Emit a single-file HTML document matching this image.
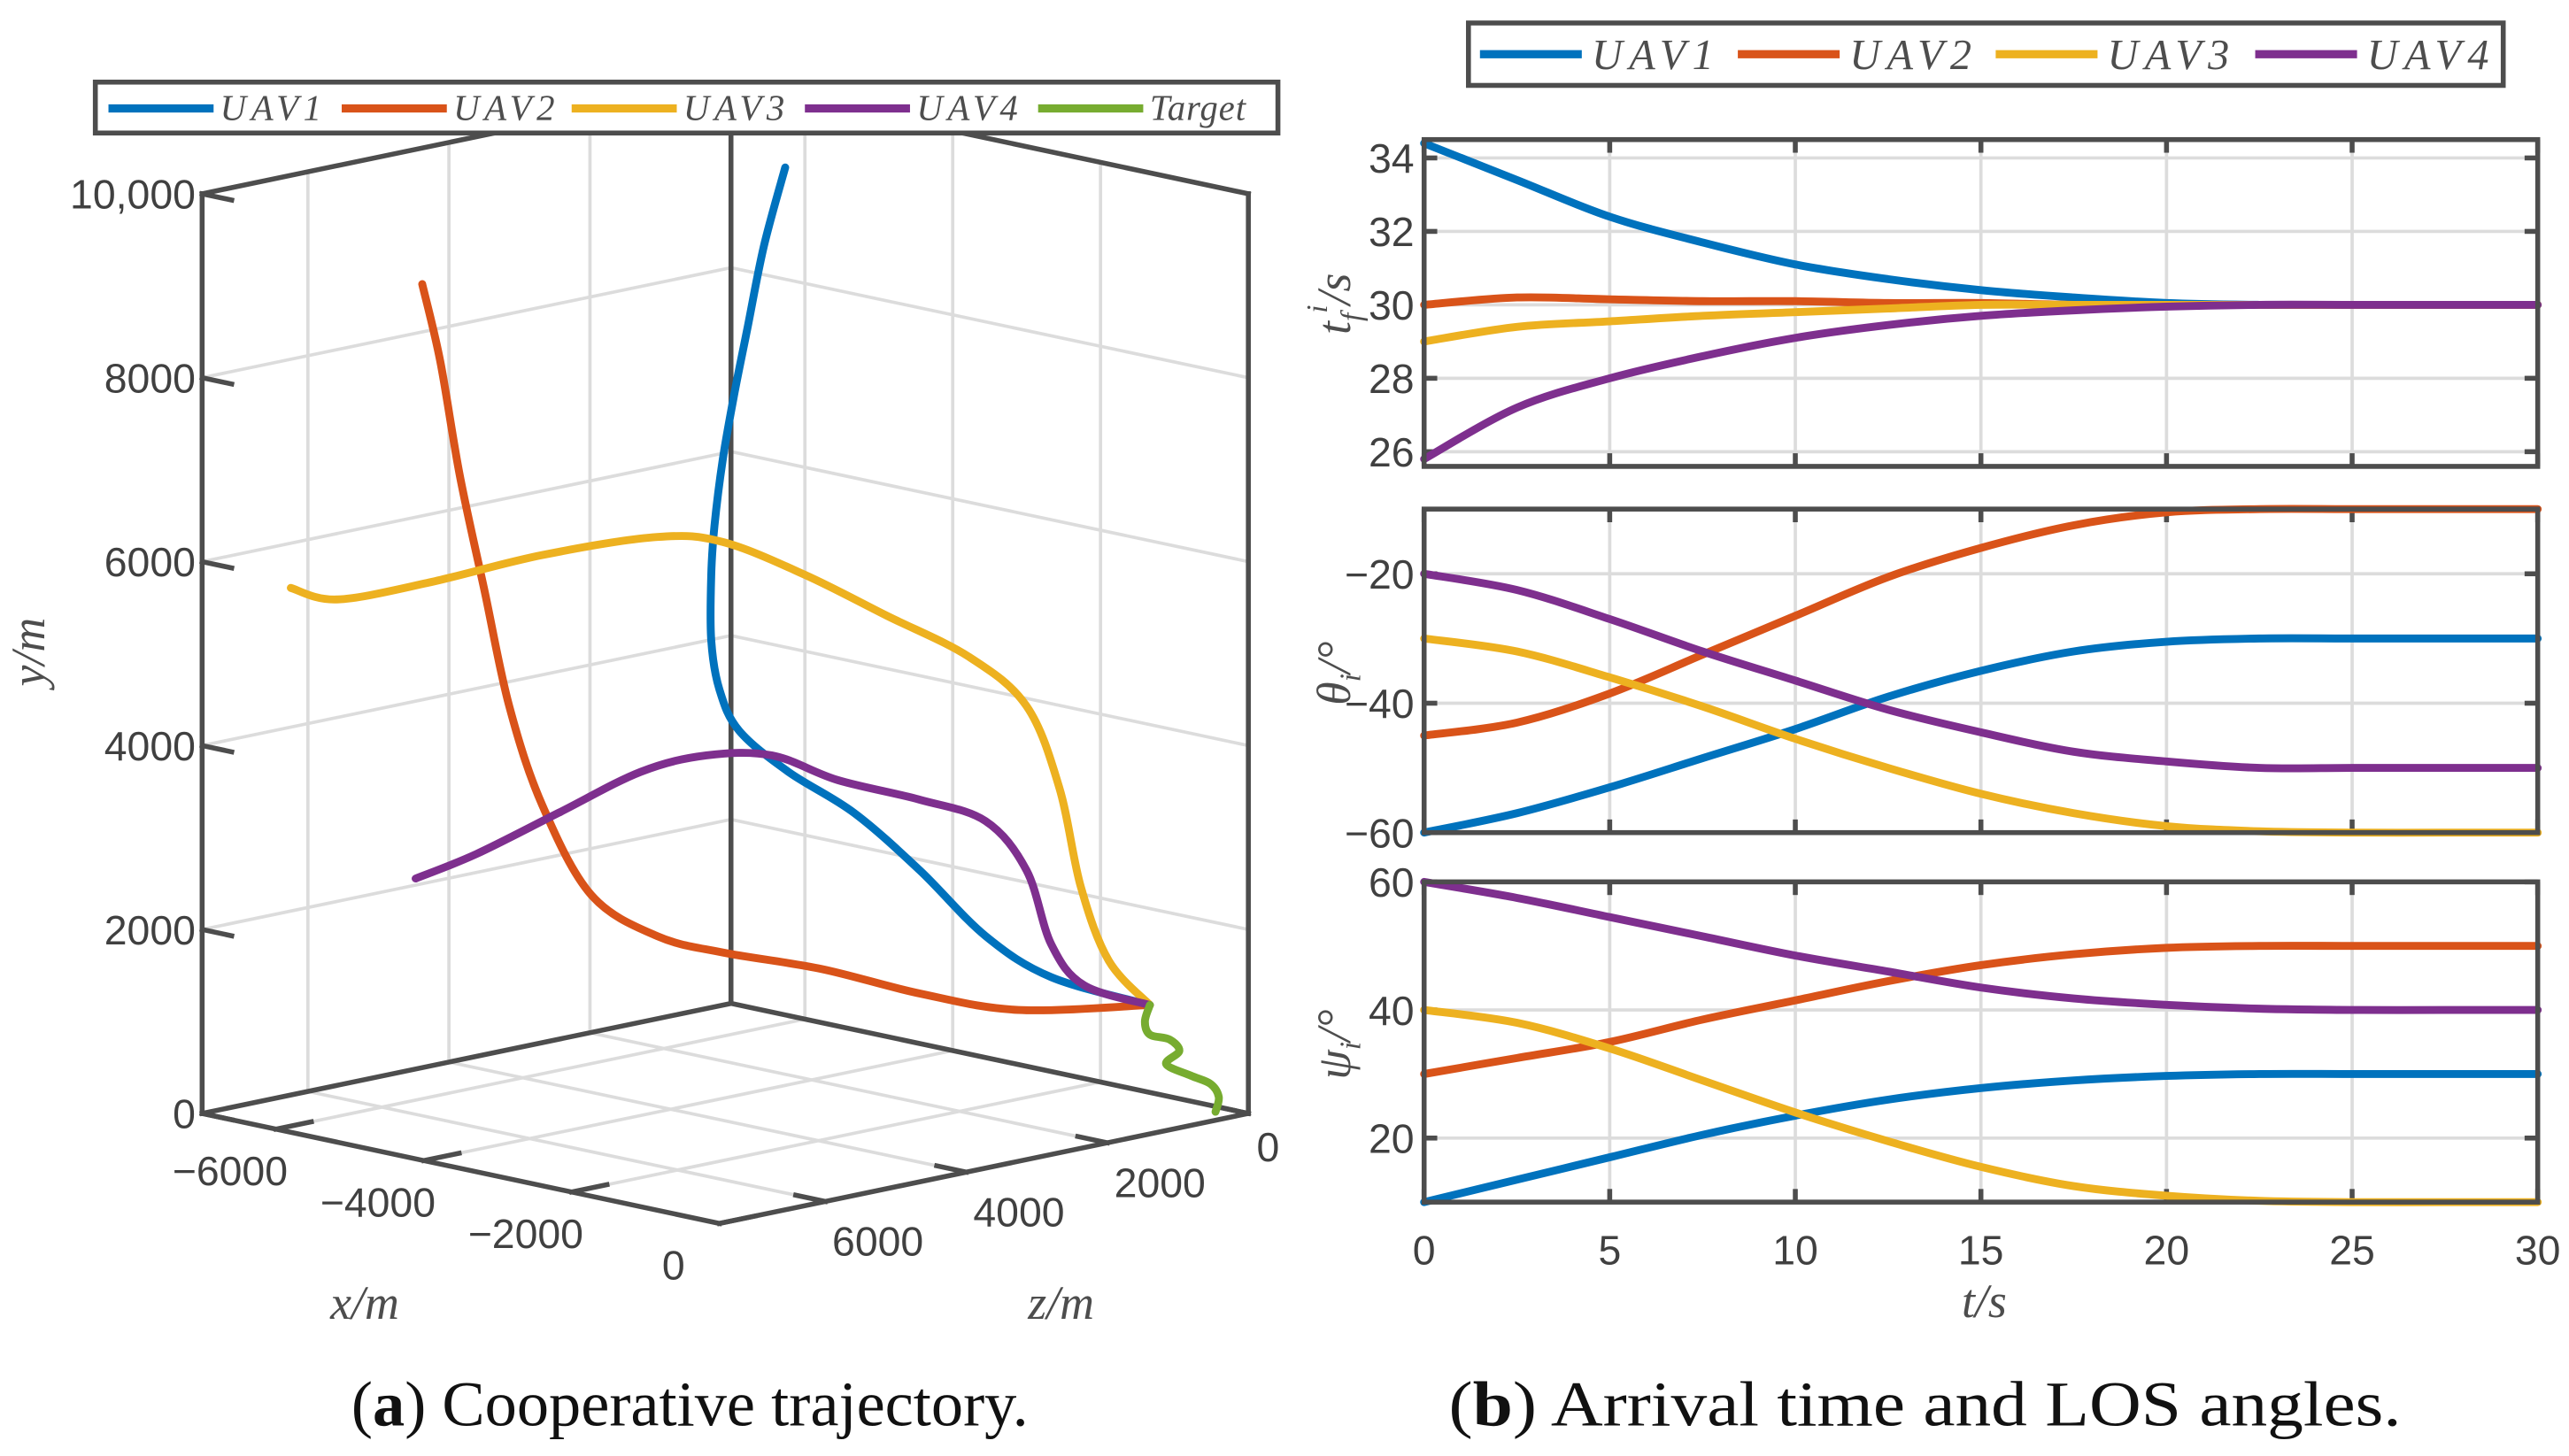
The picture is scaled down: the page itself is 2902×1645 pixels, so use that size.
<!DOCTYPE html>
<html><head><meta charset="utf-8">
<style>
html,body{margin:0;padding:0;background:#fff;}
svg{display:block;}
text{font-family:"Liberation Sans",sans-serif;}
.tick{font-size:25px;fill:#404040;}
.math{font-family:"Liberation Serif",serif;font-style:italic;fill:#4d4d4d;}
.cap{font-family:"Liberation Serif",serif;font-size:39px;fill:#111;}
</style></head>
<body>
<svg id="fig" width="2902" height="1645" viewBox="0 0 1564 886.6" xmlns="http://www.w3.org/2000/svg">
<g id="left"></g>
<g id="right"></g>
<text class="cap" x="420" y="868" text-anchor="middle">(<tspan font-weight="bold">a</tspan>) Cooperative trajectory.</text>
<text class="cap" x="882" y="868" textLength="580" lengthAdjust="spacingAndGlyphs">(<tspan font-weight="bold">b</tspan>) Arrival time and LOS angles.</text>
</svg>
<script>
// ---------- 3D trajectory data (metres) ----------
const uav1X=[-3099,-3242,-3352,-3440,-3517,-3572,-3594,-3594,-3539,-3407,-3077,-2638,-2198,-1758,-1319,-659];
const uav1Y=[10286,9429,8536,7821,7107,6393,5857,5143,4607,4161,3714,3268,2643,1929,1482,1179];
const uav1Z=[3320,3473,3591,3685,3768,3827,3850,3850,3791,3650,3297,2826,2355,1884,1413,706];
const uav2X=[-5528,-5407,-5275,-5110,-4946,-4726,-4396,-3956,-3517,-2857,-2198,-1539,-659];
const uav2Y=[9018,8179,6929,5679,4429,3357,2375,1929,1750,1571,1304,1125,1179];
const uav2Z=[5922,5793,5652,5475,5298,5063,4710,4239,3768,3061,2355,1648,706];
const uav3X=[-6407,-6099,-5495,-4726,-3956,-3517,-2967,-2418,-1868,-1484,-1264,-1121,-934,-659];
const uav3Y=[5714,5589,5768,6071,6268,6214,5857,5411,4964,4429,3536,2464,1661,1179];
const uav3Z=[6864,6535,5887,5063,4239,3768,3179,2590,2002,1590,1354,1201,1001,706];
const uav4X=[-5572,-5165,-4616,-4066,-3627,-3187,-2748,-2198,-1758,-1484,-1319,-1099,-659];
const uav4Y=[2554,2821,3268,3714,3893,3893,3625,3411,3179,2643,1839,1393,1179];
const uav4Z=[5969,5534,4945,4356,3885,3414,2944,2355,1884,1590,1413,1177,706];
const tgtX=[-659,-692,-659,-528,-462,-550,-385,-253,-198,-220];
const tgtY=[1179,1000,857,804,679,536,411,321,179,18];
const tgtZ=[706,742,706,565,495,589,412,271,212,235];
const xTicks=[-6000,-4000,-2000,0];
const zTicks=[0,2000,4000,6000];
const yTicks=[0,2000,4000,6000,8000,10000];
const yTickLabels=["0","2000","4000","6000","8000","10,000"];
const xTickLabels=["\u22126000","\u22124000","\u22122000","0"];
const zTickLabels=["0","2000","4000","6000"];

// ---------- 2D time-series data ----------
const tVals=[0,2.5,5,7.5,10,12.5,15,17.5,20,22.5,25,27.5,30];
const tf1=[34.4,33.4,32.4,31.7,31.1,30.7,30.4,30.2,30.05,30,30,30,30];
const tf2=[30,30.2,30.15,30.1,30.1,30.05,30.05,30,30,30,30,30,30];
const tf3=[29,29.4,29.55,29.7,29.8,29.9,30,30,30,30,30,30,30];
const tf4=[25.8,27.2,28.0,28.6,29.1,29.45,29.7,29.85,29.95,30,30,30,30];
const th1=[-60,-57,-53,-48.5,-44,-39,-35,-32,-30.5,-30,-30,-30,-30];
const th2=[-45,-43,-38.5,-32.5,-26.5,-20.5,-16,-12.5,-10.5,-10,-10,-10,-10];
const th3=[-30,-32,-36,-40.5,-45.5,-50,-54,-57,-59,-59.8,-60,-60,-60];
const th4=[-20,-22.5,-27,-32,-36.5,-41,-44.5,-47.5,-49,-50,-50,-50,-50];
const ps1=[10,13.5,17,20.5,23.5,26,27.8,29,29.7,30,30,30,30];
const ps2=[30,32.5,35,38.5,41.5,44.5,47,48.7,49.7,50,50,50,50];
const ps3=[40,38,34,29,24,19.5,15.5,12.5,11,10.2,10,10,10];
const ps4=[60,57.5,54.5,51.5,48.5,46,43.5,41.8,40.8,40.2,40,40,40];
const tTicks=[0,5,10,15,20,25,30];
const tfTicks=[26,28,30,32,34];
const thTicks=[-60,-40,-20];
const psTicks=[20,40,60];

const COLORS=["#0072BD","#D95319","#EDB120","#7E2F8E","#77AC30"];
const NS="http://www.w3.org/2000/svg";
function mk(tag,attrs,parent){const e=document.createElementNS(NS,tag);for(const k in attrs)e.setAttribute(k,attrs[k]);parent.appendChild(e);return e;}
function smooth(pts){
  let d="M"+pts[0][0].toFixed(2)+","+pts[0][1].toFixed(2);
  for(let i=0;i<pts.length-1;i++){
    const p0=pts[Math.max(0,i-1)],p1=pts[i],p2=pts[i+1],p3=pts[Math.min(pts.length-1,i+2)];
    const c1=[p1[0]+(p2[0]-p0[0])/6,p1[1]+(p2[1]-p0[1])/6];
    const c2=[p2[0]-(p3[0]-p1[0])/6,p2[1]-(p3[1]-p1[1])/6];
    d+="C"+c1[0].toFixed(2)+","+c1[1].toFixed(2)+" "+c2[0].toFixed(2)+","+c2[1].toFixed(2)+" "+p2[0].toFixed(2)+","+p2[1].toFixed(2);
  }
  return d;
}

// ---------- 3D projection ----------
function P(x,y,z){return [760+0.045*x-0.04293*z, 678+0.009571*x+0.008933*z-0.056*y];}
const L=document.getElementById('left');
const XMIN=-7000,XMAX=0,ZMIN=0,ZMAX=7500,YMAX=10000;
const gridC="#dcdcdc", axC="#4d4d4d";
function seg(a,b,col,w,g,name){const e=mk('line',{x1:a[0],y1:a[1],x2:b[0],y2:b[1],stroke:col,'stroke-width':w,'stroke-linecap':'square'},g);


return e;}
yTicks.forEach(v=>{ if(v===0)return;
  seg(P(XMIN,v,ZMAX),P(XMIN,v,ZMIN),gridC,2,L,'y-gridline-left-wall');
  seg(P(XMIN,v,ZMIN),P(XMAX,v,ZMIN),gridC,2,L,'y-gridline-right-wall');
});
zTicks.forEach(v=>{ if(v===0)return;
  seg(P(XMIN,0,v),P(XMIN,YMAX,v),gridC,2,L,'z-gridline-wall');
  seg(P(XMIN,0,v),P(XMAX,0,v),gridC,2,L,'z-gridline-floor');
});
xTicks.forEach(v=>{ if(v===0)return;
  seg(P(v,0,ZMIN),P(v,YMAX,ZMIN),gridC,2,L,'x-gridline-wall');
  seg(P(v,0,ZMIN),P(v,0,ZMAX),gridC,2,L,'x-gridline-floor');
});
seg(P(XMIN,0,ZMAX),P(XMIN,YMAX,ZMAX),axC,3,L,'y-axis-line');
seg(P(XMAX,0,ZMIN),P(XMAX,YMAX,ZMIN),axC,3,L,'right-edge');
seg(P(XMIN,0,ZMIN),P(XMIN,YMAX,ZMIN),axC,3,L,'back-edge');
seg(P(XMIN,YMAX,ZMAX),P(XMIN,YMAX,ZMIN),axC,3,L,'top-left-edge');
seg(P(XMIN,YMAX,ZMIN),P(XMAX,YMAX,ZMIN),axC,3,L,'top-right-edge');
seg(P(XMIN,0,ZMAX),P(XMAX,0,ZMAX),axC,3,L,'x-axis-line');
seg(P(XMAX,0,ZMAX),P(XMAX,0,ZMIN),axC,3,L,'z-axis-line');
seg(P(XMIN,0,ZMAX),P(XMIN,0,ZMIN),axC,3,L,'floor-back-left');
seg(P(XMIN,0,ZMIN),P(XMAX,0,ZMIN),axC,3,L,'floor-back-right');
yTicks.forEach((v,i)=>{const a=P(XMIN,v,ZMAX),b=P(XMIN+400,v,ZMAX);seg(a,b,axC,3,L,'y-tick');
  const t=mk('text',{x:a[0]-4,y:a[1]+9,'text-anchor':'end',class:'tick'},L);t.textContent=yTickLabels[i];
  
  });
xTicks.forEach((v,i)=>{const a=P(v,0,ZMAX),b=P(v,0,ZMAX-500);seg(a,b,axC,3,L,'x-tick');
  const t=mk('text',{x:a[0]-28,y:a[1]+34,'text-anchor':'middle',class:'tick'},L);t.textContent=xTickLabels[i];
  
  });
zTicks.forEach((v,i)=>{const a=P(XMAX,0,v),b=P(XMAX-400,0,v);seg(a,b,axC,3,L,'z-tick');
  const t=mk('text',{x:a[0]+(v===0?12:32),y:a[1]+(v===0?29:33),'text-anchor':'middle',class:'tick'},L);t.textContent=zTickLabels[i];
  
  });
[[uav1X,uav1Y,uav1Z],[uav2X,uav2Y,uav2Z],[uav3X,uav3Y,uav3Z],[uav4X,uav4Y,uav4Z],[tgtX,tgtY,tgtZ]].forEach((s,k)=>{
  const pts=s[0].map((x,i)=>P(x,s[1][i],s[2][i]));
  const p=mk('path',{d:smooth(pts),fill:'none',stroke:COLORS[k],'stroke-width':4.8,'stroke-linejoin':'round','stroke-linecap':'round'},L);
  
  
});
let t;
t=mk('text',{x:222,y:803,'text-anchor':'middle',class:'math','font-size':29},L);t.textContent='x/m';


t=mk('text',{x:646,y:803,'text-anchor':'middle',class:'math','font-size':29},L);t.textContent='z/m';


t=mk('text',{x:0,y:0,'text-anchor':'middle',class:'math','font-size':29,transform:'translate(27,397) rotate(-90)'},L);t.textContent='y/m';


const LL=mk('g',{},L);


mk('rect',{x:58,y:50,width:720,height:31,fill:'#fff',stroke:axC,'stroke-width':3},LL);
const legNames=['UAV1','UAV2','UAV3','UAV4','Target'];
const legX=[66,208,348,490,632];
legNames.forEach((n,i)=>{
  const g=mk('g',{},LL);
  
  
  mk('line',{x1:legX[i],y1:66,x2:legX[i]+64,y2:66,stroke:COLORS[i],'stroke-width':5},g);
  const tt=mk('text',{x:legX[i]+68,y:73,class:'math','font-size':22,fill:'#222','letter-spacing':n==='Target'?0.5:3},g);tt.textContent=n;
});

// ---------- right panels ----------
const R=document.getElementById('right');
const X0=867,X1=1545;
function sx(t){return X0+(t-0)/(30-0)*(X1-X0);}
const panels=[
 {top:85,bot:284,ymin:25.6,ymax:34.5,ticks:tfTicks,series:[tf1,tf2,tf3,tf4],name:'arrival-time'},
 {top:310,bot:507,ymin:-60,ymax:-10,ticks:thTicks,series:[th1,th2,th3,th4],name:'theta'},
 {top:537,bot:732,ymin:10,ymax:60,ticks:psTicks,series:[ps1,ps2,ps3,ps4],name:'psi'}
];
panels.forEach((pn,pi)=>{
  const g=mk('g',{},R);
  
  
  const sy=v=>pn.bot-(v-pn.ymin)/(pn.ymax-pn.ymin)*(pn.bot-pn.top);
  tTicks.forEach(v=>{ if(v===0||v===30)return;
    const l=mk('line',{x1:sx(v),x2:sx(v),y1:pn.top,y2:pn.bot,stroke:gridC,'stroke-width':2},g);
    
    
  });
  pn.ticks.forEach(v=>{
    const l=mk('line',{x1:X0,x2:X1,y1:sy(v),y2:sy(v),stroke:gridC,'stroke-width':2},g);
    
    
    mk('line',{x1:X0,x2:X0+8,y1:sy(v),y2:sy(v),stroke:axC,'stroke-width':3},g);
    mk('line',{x1:X1,x2:X1-8,y1:sy(v),y2:sy(v),stroke:axC,'stroke-width':3},g);
    const tl=mk('text',{x:X0-6,y:sy(v)+9,'text-anchor':'end',class:'tick'},g);tl.textContent=v<0?'\u2212'+(-v):String(v);
    
    
  });
  tTicks.forEach(v=>{
    mk('line',{x1:sx(v),x2:sx(v),y1:pn.bot,y2:pn.bot-8,stroke:axC,'stroke-width':3},g);
    mk('line',{x1:sx(v),x2:sx(v),y1:pn.top,y2:pn.top+8,stroke:axC,'stroke-width':3},g);
  });
  pn.series.forEach((s,k)=>{
    const pts=s.map((v,i)=>[sx(tVals[i]),sy(v)]);
    const p=mk('path',{d:smooth(pts),fill:'none',stroke:COLORS[k],'stroke-width':4.8,'stroke-linecap':'round'},g);
    
    
  });
  const fr=mk('rect',{x:X0,y:pn.top,width:X1-X0,height:pn.bot-pn.top,fill:'none',stroke:axC,'stroke-width':3},g);
  
  
});
tTicks.forEach(v=>{const tl=mk('text',{x:sx(v),y:770,'text-anchor':'middle',class:'tick'},R);tl.textContent=String(v);
  
  });
t=mk('text',{x:1208,y:802,'text-anchor':'middle',class:'math','font-size':29},R);t.textContent='t/s';


t=mk('text',{x:0,y:0,'text-anchor':'middle',class:'math','font-size':29,transform:'translate(822,185) rotate(-90)'},R);
t.innerHTML='t<tspan dy="7" font-size="18">f</tspan><tspan dy="-21" font-size="18">i</tspan><tspan dy="14">/s</tspan>';


t=mk('text',{x:0,y:0,'text-anchor':'middle',class:'math','font-size':29,transform:'translate(822,410) rotate(-90)'},R);
t.innerHTML='θ<tspan dy="6" font-size="18">i</tspan><tspan dy="-6">/°</tspan>';


t=mk('text',{x:0,y:0,'text-anchor':'middle',class:'math','font-size':29,transform:'translate(822,636) rotate(-90)'},R);
t.innerHTML='ψ<tspan dy="6" font-size="18">i</tspan><tspan dy="-6">/°</tspan>';


const LR=mk('g',{},R);


mk('rect',{x:894,y:14,width:630,height:38,fill:'#fff',stroke:axC,'stroke-width':3},LR);
const legRX=[901,1058,1215,1373];
['UAV1','UAV2','UAV3','UAV4'].forEach((n,i)=>{
  const g=mk('g',{},LR);
  
  
  mk('line',{x1:legRX[i],y1:33,x2:legRX[i]+62,y2:33,stroke:COLORS[i],'stroke-width':5},g);
  const tt=mk('text',{x:legRX[i]+68,y:42,class:'math','font-size':26,fill:'#222','letter-spacing':4},g);tt.textContent=n;
});
</script>
</body></html>
